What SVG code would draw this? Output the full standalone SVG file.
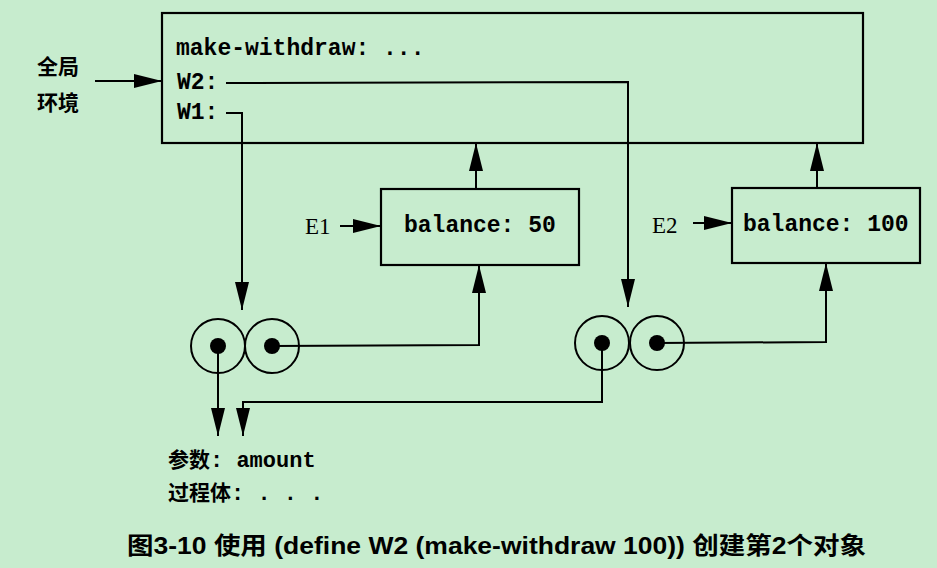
<svg xmlns="http://www.w3.org/2000/svg" width="937" height="568" viewBox="0 0 937 568">
<defs>
<style>
.bg{fill:#c7ecce}
.box{fill:none;stroke:#000;stroke-width:2.2}
.ln{fill:none;stroke:#000;stroke-width:2}
.circ{fill:none;stroke:#000;stroke-width:2}
.dot{fill:#000}
.mono{font-family:"Liberation Mono","Courier New",monospace;font-weight:bold;font-size:23px;fill:#000}
.cjk{font-family:"Noto Sans CJK SC","Noto Sans CJK JP",sans-serif;font-weight:bold;font-size:21px;fill:#000}
.ser{font-family:"Liberation Serif","Times New Roman",serif;font-size:23px;fill:#000}
.cap{font-family:"Liberation Sans","Noto Sans CJK SC",sans-serif;font-weight:bold;font-size:24px;fill:#000}
</style>
<marker id="ah" markerUnits="userSpaceOnUse" markerWidth="30" markerHeight="16" refX="28" refY="7" orient="auto">
<path d="M0,0 L28,7 L0,14 Z" fill="#000"/>
</marker>
</defs>
<rect class="bg" x="0" y="0" width="937" height="568"/>

<g id="global-env">
<rect class="box" x="162" y="13" width="701" height="130"/>
<text class="mono" x="176" y="55">make-withdraw: ...</text>
<text class="mono" x="177" y="89">W2:</text>
<text class="mono" x="177" y="119">W1:</text>
</g>

<g id="global-label">
<text class="cjk" x="37" y="74">全局</text>
<text class="cjk" x="37" y="110">环境</text>
</g>

<g id="E1">
<rect class="box" x="381" y="189" width="198" height="76"/>
<text class="mono" x="404" y="232">balance: 50</text>
</g>
<g id="E1-label"><text class="ser" x="305" y="234">E1</text></g>

<g id="E2">
<rect class="box" x="732" y="188" width="188" height="75"/>
<text class="mono" x="743" y="231">balance: 100</text>
</g>
<g id="E2-label"><text class="ser" x="652" y="233">E2</text></g>

<g id="proc1">
<circle class="circ" cx="218" cy="346" r="27"/>
<circle class="circ" cx="272" cy="346" r="27"/>
<circle class="dot" cx="218" cy="346" r="8"/>
<circle class="dot" cx="272" cy="346" r="8"/>
</g>

<g id="proc2">
<circle class="circ" cx="602" cy="343" r="27"/>
<circle class="circ" cx="657" cy="343" r="27"/>
<circle class="dot" cx="602" cy="343" r="8"/>
<circle class="dot" cx="657" cy="343" r="8"/>
</g>

<g id="code">
<text class="cjk" x="168" y="467">参数<tspan class="mono" style="font-size:22px">: amount</tspan></text>
<text class="cjk" x="168" y="500">过程体<tspan class="mono" style="font-size:22px">: . . .</tspan></text>
</g>

<g id="connectors">
<line class="ln" x1="95" y1="81" x2="162" y2="81" marker-end="url(#ah)"/>
<polyline class="ln" points="226,83 628,82 628,307" marker-end="url(#ah)"/>
<polyline class="ln" points="226,113 242,113 242,310" marker-end="url(#ah)"/>
<line class="ln" x1="340" y1="226" x2="381" y2="226" marker-end="url(#ah)"/>
<line class="ln" x1="693" y1="223" x2="732" y2="223" marker-end="url(#ah)"/>
<line class="ln" x1="476" y1="189" x2="476" y2="143" marker-end="url(#ah)"/>
<line class="ln" x1="817" y1="188" x2="817" y2="143" marker-end="url(#ah)"/>
<polyline class="ln" points="272,346 479,345 479,265" marker-end="url(#ah)"/>
<polyline class="ln" points="657,343 826,342 826,263" marker-end="url(#ah)"/>
<line class="ln" x1="218" y1="346" x2="218" y2="436" marker-end="url(#ah)"/>
<polyline class="ln" points="602,343 602,402 243,402 243,436" marker-end="url(#ah)"/>
</g>

<g id="caption">
<text class="cap" x="127" y="554" textLength="739" lengthAdjust="spacingAndGlyphs">图3-10  使用 (define W2 (make-withdraw 100)) 创建第2个对象</text>
</g>
</svg>
